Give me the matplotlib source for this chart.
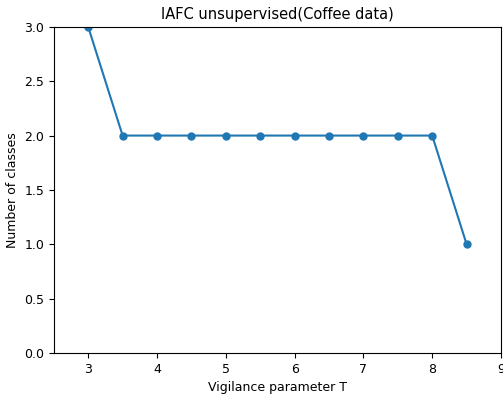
import matplotlib
matplotlib.use("Agg")
import matplotlib.pyplot as plt

# ── Data ──────────────────────────────────────────────────────────────────────
vigilance = [3.0, 3.5, 4.0, 4.5, 5.0, 5.5, 6.0, 6.5, 7.0, 7.5, 8.0, 8.5]
n_classes = [3, 2, 2, 2, 2, 2, 2, 2, 2, 2, 2, 1]

plt.rcParams["font.size"] = 9

fig = plt.figure(figsize=(5.03, 3.96), dpi=100)
ax = fig.add_axes([0.107, 0.109, 0.889, 0.823])
ax.plot(vigilance, n_classes, "-o", color="#1f77b4", markersize=5)
ax.set_xlim(2.5, 9)
ax.set_ylim(0, 3.0)
ax.set_xticks([3, 4, 5, 6, 7, 8, 9])
ax.set_title("IAFC unsupervised(Coffee data)", fontsize=10.5)
ax.set_xlabel("Vigilance parameter T")
ax.set_ylabel("Number of classes")

fig.savefig("out.png", dpi=100)
